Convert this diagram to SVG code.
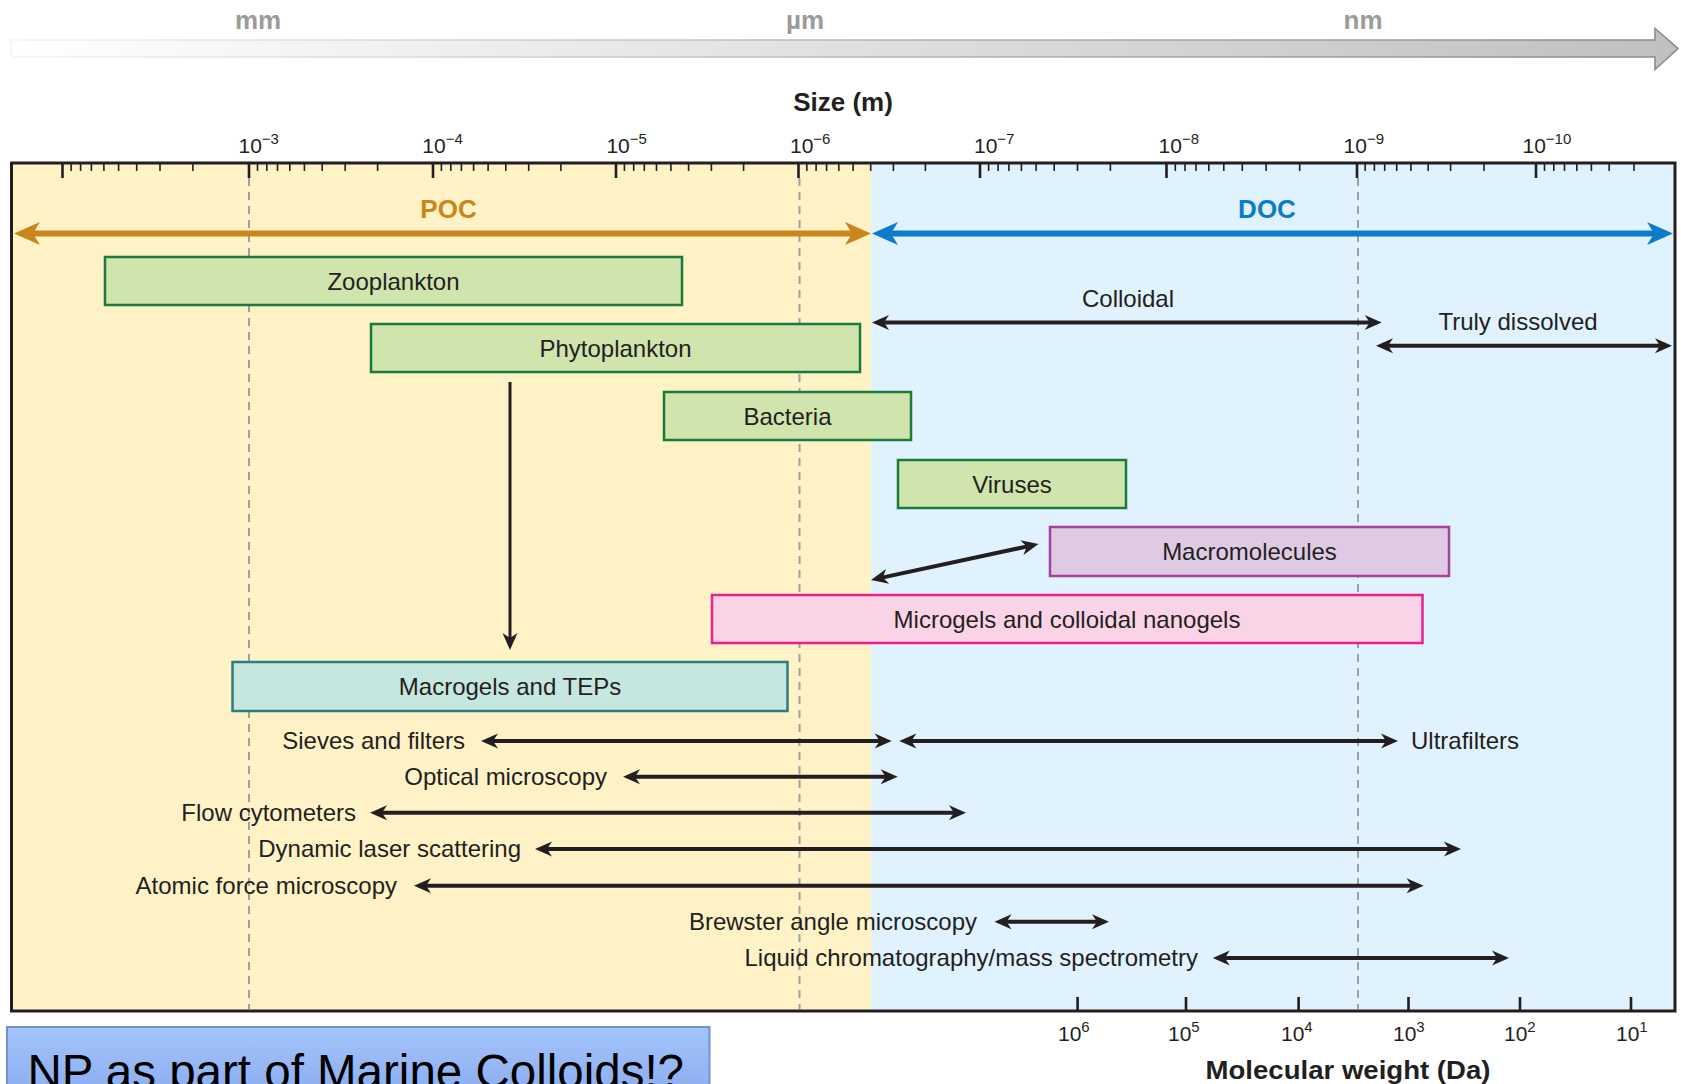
<svg xmlns="http://www.w3.org/2000/svg" width="1681" height="1084" viewBox="0 0 1681 1084">
<defs>
  <linearGradient id="gArrow" x1="11" y1="0" x2="1678" y2="0" gradientUnits="userSpaceOnUse">
    <stop offset="0" stop-color="#ffffff"/>
    <stop offset="0.5" stop-color="#e0e0e1"/>
    <stop offset="1" stop-color="#c0c0c1"/>
  </linearGradient>
  <linearGradient id="gArrowStroke" x1="11" y1="0" x2="1678" y2="0" gradientUnits="userSpaceOnUse">
    <stop offset="0" stop-color="#f4f4f4"/>
    <stop offset="0.5" stop-color="#b8b8b8"/>
    <stop offset="1" stop-color="#8a8a8a"/>
  </linearGradient>
  <linearGradient id="gNP" x1="0" y1="0" x2="0" y2="1">
    <stop offset="0" stop-color="#a3c4fb"/>
    <stop offset="1" stop-color="#8badef"/>
  </linearGradient>
  <marker id="ah" viewBox="-15 -15 30 30" markerWidth="30" markerHeight="30" refX="0" refY="0" markerUnits="userSpaceOnUse" orient="auto-start-reverse" overflow="visible">
    <path d="M10,0 L-7,-7.5 L-2,0 L-7,7.5 Z" fill="#231f20"/>
  </marker>
  <marker id="ahPOC" viewBox="-20 -20 40 40" markerWidth="40" markerHeight="40" refX="0" refY="0" markerUnits="userSpaceOnUse" orient="auto-start-reverse" overflow="visible">
    <path d="M16,0 L-10,-11.5 L-3,0 L-10,11.5 Z" fill="#c8861c"/>
  </marker>
  <marker id="ahDOC" viewBox="-20 -20 40 40" markerWidth="40" markerHeight="40" refX="0" refY="0" markerUnits="userSpaceOnUse" orient="auto-start-reverse" overflow="visible">
    <path d="M16,0 L-10,-11.5 L-3,0 L-10,11.5 Z" fill="#0b7cc9"/>
  </marker>
</defs>
<style>
  text { font-family: "Liberation Sans", Arial, sans-serif; }
  .lbl { font-size: 24px; fill: #231f20; }
  .mid { text-anchor: middle; }
  .end { text-anchor: end; }
  .unit { font-size: 26px; font-weight: bold; fill: #9b9b9b; text-anchor: middle; }
  .ax { font-size: 21px; fill: #231f20; }
  .sup { font-size: 15px; }
  .title { font-size: 26px; font-weight: bold; fill: #231f20; text-anchor: middle; }
  .box { stroke-width: 2.5; }
  .green { fill: #cfe5ad; stroke: #1b7a3e; }
  .teal { fill: #c6e7df; stroke: #2e7b80; }
  .purple { fill: #dfcae3; stroke: #a3429f; }
  .pink { fill: #fbd3e6; stroke: #e6238c; }
  .arr { stroke: #231f20; stroke-width: 4; fill: none; marker-start: url(#ah); marker-end: url(#ah); }
  .dash { stroke: #a0a0a0; stroke-width: 2; stroke-dasharray: 8 6; fill: none; }
  .minor { stroke: #231f20; stroke-width: 1.6; fill: none; }
  .major { stroke: #231f20; stroke-width: 2.6; fill: none; }
</style>

<!-- scale arrow at top -->
<g id="scale-arrow">
  <polygon points="11,40 1655,40 1655,28.5 1678,48.5 1655,69.5 1655,57 11,57" fill="url(#gArrow)" stroke="url(#gArrowStroke)" stroke-width="1.6"/>
  <text class="unit" x="258" y="29">mm</text>
  <text class="unit" x="805" y="29">µm</text>
  <text class="unit" x="1363" y="29">nm</text>
</g>

<text id="size-title" class="title" x="843" y="111">Size (m)</text>

<!-- background regions -->
<g id="regions">
  <rect x="12" y="163" width="859" height="848" fill="#fef2c6"/>
  <rect x="871" y="163" width="804" height="848" fill="#e0f2fd"/>
</g>

<!-- dashed reference lines -->
<g id="gridlines">
  <line class="dash" x1="249" y1="178" x2="249" y2="1009"/>
  <line class="dash" x1="799.5" y1="178" x2="799.5" y2="1009"/>
  <line class="dash" x1="1358" y1="178" x2="1358" y2="1009"/>
</g>

<!-- top axis ticks -->
<g id="size-axis">
  <path class="major" d="M62.5,164V178 M249,164V178 M433,164V178 M616,164V178 M798.5,164V178 M980,164V178 M1166.5,164V178 M1357,164V178 M1536,164V178"/>
  <path class="minor" d="M71.1,164V171 M80.6,164V171 M91.4,164V171 M103.9,164V171 M118.6,164V171 M136.7,164V171 M160,164V171 M192.9,164V171
    M257.5,164V171 M266.8,164V171 M277.5,164V171 M289.8,164V171 M304.4,164V171 M322.2,164V171 M345.2,164V171 M377.6,164V171
    M441.4,164V171 M450.8,164V171 M461.4,164V171 M473.6,164V171 M488.1,164V171 M505.8,164V171 M528.7,164V171 M560.9,164V171
    M624.4,164V171 M633.7,164V171 M644.3,164V171 M656.5,164V171 M670.9,164V171 M688.6,164V171 M711.4,164V171 M743.6,164V171
    M806.8,164V171 M816.1,164V171 M826.6,164V171 M838.8,164V171 M853.1,164V171 M870.7,164V171 M893.4,164V171 M925.4,164V171
    M988.6,164V171 M998.1,164V171 M1008.9,164V171 M1021.4,164V171 M1036.1,164V171 M1054.2,164V171 M1077.5,164V171 M1110.4,164V171
    M1175.3,164V171 M1185,164V171 M1196,164V171 M1208.8,164V171 M1223.8,164V171 M1242.3,164V171 M1266.1,164V171 M1299.7,164V171
    M1365.2,164V171 M1374.4,164V171 M1384.7,164V171 M1396.7,164V171 M1410.9,164V171 M1428.2,164V171 M1450.6,164V171 M1484,164V171
    M1544.5,164V171 M1553.8,164V171 M1564.5,164V171 M1576.8,164V171 M1591.4,164V171 M1609.2,164V171 M1634,164V171"/>
  <text class="ax" x="238.5" y="153">10<tspan class="sup" dy="-9">−3</tspan></text>
  <text class="ax" x="422.3" y="153">10<tspan class="sup" dy="-9">−4</tspan></text>
  <text class="ax" x="606.4" y="153">10<tspan class="sup" dy="-9">−5</tspan></text>
  <text class="ax" x="790" y="153">10<tspan class="sup" dy="-9">−6</tspan></text>
  <text class="ax" x="974" y="153">10<tspan class="sup" dy="-9">−7</tspan></text>
  <text class="ax" x="1158.6" y="153">10<tspan class="sup" dy="-9">−8</tspan></text>
  <text class="ax" x="1343.6" y="153">10<tspan class="sup" dy="-9">−9</tspan></text>
  <text class="ax" x="1522.5" y="153">10<tspan class="sup" dy="-9">−10</tspan></text>
</g>

<!-- bottom molecular weight axis -->
<g id="mw-axis">
  <path class="major" d="M1077.6,997V1010 M1186,997V1010 M1298.6,997V1010 M1408.5,997V1010 M1520,997V1010 M1631,997V1010"/>
  <text class="ax" x="1058" y="1041">10<tspan class="sup" dy="-9">6</tspan></text>
  <text class="ax" x="1168" y="1041">10<tspan class="sup" dy="-9">5</tspan></text>
  <text class="ax" x="1281" y="1041">10<tspan class="sup" dy="-9">4</tspan></text>
  <text class="ax" x="1393" y="1041">10<tspan class="sup" dy="-9">3</tspan></text>
  <text class="ax" x="1504" y="1041">10<tspan class="sup" dy="-9">2</tspan></text>
  <text class="ax" x="1616" y="1041">10<tspan class="sup" dy="-9">1</tspan></text>
  <text class="title" x="1348" y="1079" textLength="285" lengthAdjust="spacingAndGlyphs">Molecular weight (Da)</text>
</g>

<!-- frame -->
<rect id="frame" x="11.5" y="163" width="1663.5" height="848" fill="none" stroke="#231f20" stroke-width="3"/>

<!-- nodes -->
<g id="node-poc">
  <text x="448.5" y="218" font-size="26" font-weight="bold" fill="#c8861c" text-anchor="middle">POC</text>
</g>
<g id="node-doc">
  <text x="1267" y="218" font-size="26" font-weight="bold" fill="#0b7cc9" text-anchor="middle">DOC</text>
</g>
<g id="node-zooplankton">
  <rect class="box green" x="105" y="257" width="577" height="48"/>
  <text class="lbl mid" x="393.5" y="289.5">Zooplankton</text>
</g>
<g id="node-phytoplankton">
  <rect class="box green" x="371" y="324" width="489" height="48"/>
  <text class="lbl mid" x="615.5" y="356.5">Phytoplankton</text>
</g>
<g id="node-bacteria">
  <rect class="box green" x="664" y="392" width="247" height="48"/>
  <text class="lbl mid" x="787.5" y="424.5">Bacteria</text>
</g>
<g id="node-viruses">
  <rect class="box green" x="898" y="460" width="228" height="48"/>
  <text class="lbl mid" x="1012" y="492.5">Viruses</text>
</g>
<g id="node-macromolecules">
  <rect class="box purple" x="1050" y="527" width="399" height="49"/>
  <text class="lbl mid" x="1249.5" y="560">Macromolecules</text>
</g>
<g id="node-microgels">
  <rect class="box pink" x="712" y="595" width="710.5" height="48"/>
  <text class="lbl mid" x="1067" y="627.5">Microgels and colloidal nanogels</text>
</g>
<g id="node-macrogels">
  <rect class="box teal" x="232.5" y="662" width="555" height="49"/>
  <text class="lbl mid" x="510" y="695">Macrogels and TEPs</text>
</g>
<g id="node-colloidal">
  <text class="lbl mid" x="1128" y="307">Colloidal</text>
</g>
<g id="node-truly-dissolved">
  <text class="lbl mid" x="1518" y="330">Truly dissolved</text>
</g>
<g id="node-methods">
  <text class="lbl end" x="465" y="749">Sieves and filters</text>
  <text class="lbl" x="1411" y="749">Ultrafilters</text>
  <text class="lbl end" x="607" y="785">Optical microscopy</text>
  <text class="lbl end" x="356" y="821">Flow cytometers</text>
  <text class="lbl end" x="521" y="857">Dynamic laser scattering</text>
  <text class="lbl end" x="397" y="894">Atomic force microscopy</text>
  <text class="lbl end" x="977" y="930">Brewster angle microscopy</text>
  <text class="lbl end" x="1198" y="966">Liquid chromatography/mass spectrometry</text>
</g>

<!-- connectors -->
<g id="connectors">
  <line x1="30" y1="233.5" x2="855" y2="233.5" stroke="#c8861c" stroke-width="6" marker-start="url(#ahPOC)" marker-end="url(#ahPOC)"/>
  <line x1="888" y1="233.5" x2="1657" y2="233.5" stroke="#0b7cc9" stroke-width="6" marker-start="url(#ahDOC)" marker-end="url(#ahDOC)"/>
  <line class="arr" x1="882" y1="322.5" x2="1371.7" y2="322.5"/>
  <line class="arr" x1="1386" y1="345.7" x2="1662" y2="345.7"/>
  <line x1="510" y1="382" x2="510" y2="640" stroke="#231f20" stroke-width="3" marker-end="url(#ah)"/>
  <line class="arr" x1="880.8" y1="577.9" x2="1028.7" y2="546.1" stroke-width="3.5"/>
  <line class="arr" x1="491" y1="741" x2="881.7" y2="741"/>
  <line class="arr" x1="909.3" y1="741" x2="1388" y2="741"/>
  <line class="arr" x1="633" y1="776.7" x2="887.7" y2="776.7"/>
  <line class="arr" x1="380" y1="812.7" x2="956" y2="812.7"/>
  <line class="arr" x1="545" y1="849" x2="1451" y2="849"/>
  <line class="arr" x1="424" y1="885.7" x2="1413.6" y2="885.7"/>
  <line class="arr" x1="1004.5" y1="921.7" x2="1099" y2="921.7"/>
  <line class="arr" x1="1222.8" y1="958" x2="1499" y2="958"/>
</g>

<!-- caption box -->
<g id="node-np-caption">
  <rect x="7" y="1027" width="702.5" height="70" fill="url(#gNP)" stroke="#7093cf" stroke-width="2"/>
  <text x="27.5" y="1088" font-size="47.5" fill="#000000">NP as part of Marine Colloids!?</text>
</g>
</svg>
